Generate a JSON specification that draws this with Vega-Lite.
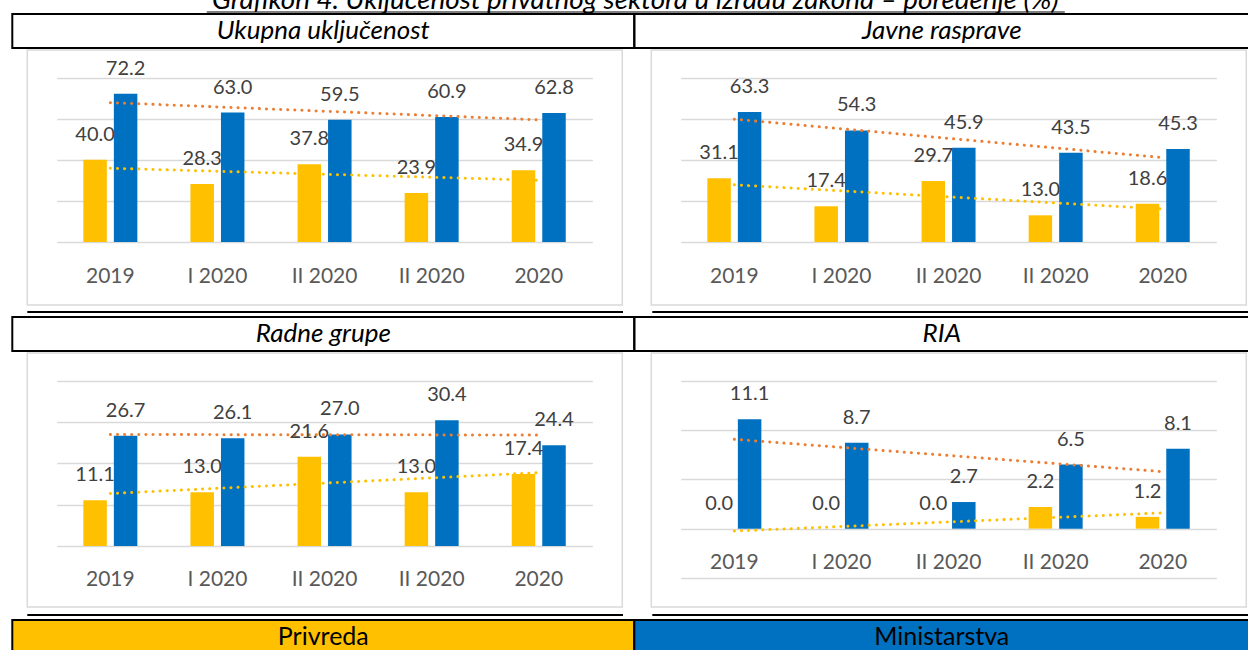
{
  "$schema": "https://vega.github.io/schema/vega-lite/v6.json",
  "padding": {"left": 11.3, "top": 0, "right": 0, "bottom": 0},
  "background": "white",
  "spacing": 0,
  "config": {
    "view": {"stroke": null},
    "font": "Lato",
    "axis": {"labelFont": "Lato"}
  },
  "datasets": {
    "ukupna": [
      {"period": "2019", "idx": 1, "series": "Privreda", "value": 40.0},
      {"period": "I 2020", "idx": 2, "series": "Privreda", "value": 28.3},
      {"period": "II 2020", "idx": 3, "series": "Privreda", "value": 37.8},
      {"period": "II 2020 ", "idx": 4, "series": "Privreda", "value": 23.9},
      {"period": "2020", "idx": 5, "series": "Privreda", "value": 34.9},
      {"period": "2019", "idx": 1, "series": "Ministarstva", "value": 72.2},
      {"period": "I 2020", "idx": 2, "series": "Ministarstva", "value": 63.0},
      {"period": "II 2020", "idx": 3, "series": "Ministarstva", "value": 59.5},
      {"period": "II 2020 ", "idx": 4, "series": "Ministarstva", "value": 60.9},
      {"period": "2020", "idx": 5, "series": "Ministarstva", "value": 62.8}
    ],
    "javne": [
      {"period": "2019", "idx": 1, "series": "Privreda", "value": 31.1},
      {"period": "I 2020", "idx": 2, "series": "Privreda", "value": 17.4},
      {"period": "II 2020", "idx": 3, "series": "Privreda", "value": 29.7},
      {"period": "II 2020 ", "idx": 4, "series": "Privreda", "value": 13.0},
      {"period": "2020", "idx": 5, "series": "Privreda", "value": 18.6},
      {"period": "2019", "idx": 1, "series": "Ministarstva", "value": 63.3},
      {"period": "I 2020", "idx": 2, "series": "Ministarstva", "value": 54.3},
      {"period": "II 2020", "idx": 3, "series": "Ministarstva", "value": 45.9},
      {"period": "II 2020 ", "idx": 4, "series": "Ministarstva", "value": 43.5},
      {"period": "2020", "idx": 5, "series": "Ministarstva", "value": 45.3}
    ],
    "radne": [
      {"period": "2019", "idx": 1, "series": "Privreda", "value": 11.1},
      {"period": "I 2020", "idx": 2, "series": "Privreda", "value": 13.0},
      {"period": "II 2020", "idx": 3, "series": "Privreda", "value": 21.6},
      {"period": "II 2020 ", "idx": 4, "series": "Privreda", "value": 13.0},
      {"period": "2020", "idx": 5, "series": "Privreda", "value": 17.4},
      {"period": "2019", "idx": 1, "series": "Ministarstva", "value": 26.7},
      {"period": "I 2020", "idx": 2, "series": "Ministarstva", "value": 26.1},
      {"period": "II 2020", "idx": 3, "series": "Ministarstva", "value": 27.0},
      {"period": "II 2020 ", "idx": 4, "series": "Ministarstva", "value": 30.4},
      {"period": "2020", "idx": 5, "series": "Ministarstva", "value": 24.4}
    ],
    "ria": [
      {"period": "2019", "idx": 1, "series": "Privreda", "value": 0.0},
      {"period": "I 2020", "idx": 2, "series": "Privreda", "value": 0.0},
      {"period": "II 2020", "idx": 3, "series": "Privreda", "value": 0.0},
      {"period": "II 2020 ", "idx": 4, "series": "Privreda", "value": 2.2},
      {"period": "2020", "idx": 5, "series": "Privreda", "value": 1.2},
      {"period": "2019", "idx": 1, "series": "Ministarstva", "value": 11.1},
      {"period": "I 2020", "idx": 2, "series": "Ministarstva", "value": 8.7},
      {"period": "II 2020", "idx": 3, "series": "Ministarstva", "value": 2.7},
      {"period": "II 2020 ", "idx": 4, "series": "Ministarstva", "value": 6.5},
      {"period": "2020", "idx": 5, "series": "Ministarstva", "value": 8.1}
    ]
  },
  "vconcat": [
    {"hconcat": [
      {"width": 193.7, "height": 1, "data": {"values": []}, "mark": "point"},
      {"width": 858, "height": 13,
       "data": {"values": [{"title": "Grafikon 4. Uključenost privatnog sektora u izradu zakona – poređenje (%)"}]},
       "mark": {"type": "text", "font": "Lato", "fontStyle": "italic", "fontSize": 27.8, "color": "black", "baseline": "alphabetic", "dy": 2, "clip": true},
       "encoding": {
         "text": {"field": "title"},
         "x": {"datum": 0, "type": "quantitative", "scale": {"domain": [-1, 1]},
               "axis": {"orient": "bottom", "domain": true, "domainColor": "black", "domainWidth": 1.2, "ticks": false, "labels": false, "grid": false, "title": null, "offset": -1.5}}
       }}
    ], "spacing": 0, "bounds": "flush"},
    {"hconcat": [
      {"width": 622, "height": 34, "view": {"stroke": "black", "strokeWidth": 2},
       "data": {"values": [{"label": "Ukupna uključenost"}]},
       "mark": {"type": "text", "font": "Lato", "fontStyle": "italic", "fontSize": 26, "color": "black"},
       "encoding": {"text": {"field": "label"}}},
      {"width": 615, "height": 34, "view": {"stroke": "black", "strokeWidth": 2},
       "data": {"values": [{"label": "Javne rasprave"}]},
       "mark": {"type": "text", "font": "Lato", "fontStyle": "italic", "fontSize": 26, "color": "black"},
       "encoding": {"text": {"field": "label"}}}
    ], "spacing": 0, "bounds": "flush"},
    {"hconcat": [
      {"width": 14.45, "height": 1, "data": {"values": []}, "mark": "point"},
      {"width": 595, "height": 255, "view": {"stroke": "#D9D9D9", "strokeWidth": 1.5},
       "data": {"name": "ukupna"},
       "resolve": {"scale": {"x": "independent"}, "axis": {"x": "independent"}},
       "layer": [
         {"mark": {"type": "bar"},
          "encoding": {
            "x": {"field": "period", "type": "nominal", "sort": null, "title": null,
                  "scale": {"range": [29.5, 565], "paddingInner": 0, "paddingOuter": 0},
                  "axis": {"labelAngle": 0, "ticks": false, "domain": false, "grid": false, "labelPadding": 23, "labelFont": "Lato", "labelFontSize": 21, "labelColor": "#595959", "offset": -63}},
            "xOffset": {"field": "series", "type": "nominal", "sort": ["Privreda", "Ministarstva"], "scale": {"paddingInner": 0.23, "paddingOuter": 0.87}},
            "y": {"field": "value", "type": "quantitative", "title": null,
                  "scale": {"domain": [0, 80], "range": [192, 27.7], "nice": false},
                  "axis": {"values": [0, 20, 40, 60, 80], "grid": true, "gridColor": "#D9D9D9", "gridWidth": 1.5, "labels": false, "ticks": false, "domain": false}},
            "color": {"field": "series", "type": "nominal", "scale": {"domain": ["Privreda", "Ministarstva"], "range": ["#FFC000", "#0070C0"]}, "legend": null}
          }},
         {"transform": [{"regression": "value", "on": "idx", "groupby": ["series"]}],
          "mark": {"type": "line", "strokeWidth": 3, "strokeDash": [0.1, 7], "strokeCap": "round"},
          "encoding": {
            "x": {"field": "idx", "type": "quantitative", "scale": {"domain": [0.5, 5.5], "range": [29.5, 565], "nice": false, "zero": false}, "axis": null},
            "y": {"field": "value", "type": "quantitative", "title": null},
            "stroke": {"field": "series", "type": "nominal", "scale": {"domain": ["Privreda", "Ministarstva"], "range": ["#FFC000", "#ED7D31"]}, "legend": null}
          }},
         {"mark": {"type": "text", "font": "Lato", "fontSize": 20, "color": "#404040", "baseline": "alphabetic", "dy": -19},
          "encoding": {
            "x": {"field": "period", "type": "nominal", "sort": null, "scale": {"range": [29.5, 565], "paddingInner": 0, "paddingOuter": 0}, "axis": null},
            "xOffset": {"field": "series", "type": "nominal", "sort": ["Privreda", "Ministarstva"]},
            "y": {"field": "value", "type": "quantitative", "title": null},
            "text": {"field": "value", "type": "quantitative", "format": ".1f"}
          }}
       ]},
      {"width": 28.3, "height": 1, "data": {"values": []}, "mark": "point"},
      {"width": 595, "height": 255, "view": {"stroke": "#D9D9D9", "strokeWidth": 1.5},
       "data": {"name": "javne"},
       "resolve": {"scale": {"x": "independent"}, "axis": {"x": "independent"}},
       "layer": [
         {"mark": {"type": "bar"},
          "encoding": {
            "x": {"field": "period", "type": "nominal", "sort": null, "title": null,
                  "scale": {"range": [29.5, 565], "paddingInner": 0, "paddingOuter": 0},
                  "axis": {"labelAngle": 0, "ticks": false, "domain": false, "grid": false, "labelPadding": 23, "labelFont": "Lato", "labelFontSize": 21, "labelColor": "#595959", "offset": -63}},
            "xOffset": {"field": "series", "type": "nominal", "sort": ["Privreda", "Ministarstva"], "scale": {"paddingInner": 0.23, "paddingOuter": 0.87}},
            "y": {"field": "value", "type": "quantitative", "title": null,
                  "scale": {"domain": [0, 80], "range": [192, 27.7], "nice": false},
                  "axis": {"values": [0, 20, 40, 60, 80], "grid": true, "gridColor": "#D9D9D9", "gridWidth": 1.5, "labels": false, "ticks": false, "domain": false}},
            "color": {"field": "series", "type": "nominal", "scale": {"domain": ["Privreda", "Ministarstva"], "range": ["#FFC000", "#0070C0"]}, "legend": null}
          }},
         {"transform": [{"regression": "value", "on": "idx", "groupby": ["series"]}],
          "mark": {"type": "line", "strokeWidth": 3, "strokeDash": [0.1, 7], "strokeCap": "round"},
          "encoding": {
            "x": {"field": "idx", "type": "quantitative", "scale": {"domain": [0.5, 5.5], "range": [29.5, 565], "nice": false, "zero": false}, "axis": null},
            "y": {"field": "value", "type": "quantitative", "title": null},
            "stroke": {"field": "series", "type": "nominal", "scale": {"domain": ["Privreda", "Ministarstva"], "range": ["#FFC000", "#ED7D31"]}, "legend": null}
          }},
         {"mark": {"type": "text", "font": "Lato", "fontSize": 20, "color": "#404040", "baseline": "alphabetic", "dy": -19},
          "encoding": {
            "x": {"field": "period", "type": "nominal", "sort": null, "scale": {"range": [29.5, 565], "paddingInner": 0, "paddingOuter": 0}, "axis": null},
            "xOffset": {"field": "series", "type": "nominal", "sort": ["Privreda", "Ministarstva"]},
            "y": {"field": "value", "type": "quantitative", "title": null},
            "text": {"field": "value", "type": "quantitative", "format": ".1f"}
          }}
       ]}
    ], "spacing": 0, "bounds": "flush"},
    {"width": 1, "height": 5, "data": {"values": []}, "mark": "point"},
    {"hconcat": [
      {"width": 14.7, "height": 1, "data": {"values": []}, "mark": "point"},
      {"width": 595.7, "height": 2, "view": {"fill": "black", "stroke": null}, "data": {"values": []}, "mark": "point"},
      {"width": 28.3, "height": 1, "data": {"values": []}, "mark": "point"},
      {"width": 598, "height": 2, "view": {"fill": "black", "stroke": null}, "data": {"values": []}, "mark": "point"}
    ], "spacing": 0, "bounds": "flush"},
    {"width": 1, "height": 3, "data": {"values": []}, "mark": "point"},
    {"hconcat": [
      {"width": 622, "height": 34, "view": {"stroke": "black", "strokeWidth": 2},
       "data": {"values": [{"label": "Radne grupe"}]},
       "mark": {"type": "text", "font": "Lato", "fontStyle": "italic", "fontSize": 26, "color": "black"},
       "encoding": {"text": {"field": "label"}}},
      {"width": 615, "height": 34, "view": {"stroke": "black", "strokeWidth": 2},
       "data": {"values": [{"label": "RIA"}]},
       "mark": {"type": "text", "font": "Lato", "fontStyle": "italic", "fontSize": 26, "color": "black"},
       "encoding": {"text": {"field": "label"}}}
    ], "spacing": 0, "bounds": "flush"},
    {"hconcat": [
      {"width": 14.45, "height": 1, "data": {"values": []}, "mark": "point"},
      {"width": 595, "height": 254, "view": {"stroke": "#D9D9D9", "strokeWidth": 1.5},
       "data": {"name": "radne"},
       "resolve": {"scale": {"x": "independent"}, "axis": {"x": "independent"}},
       "layer": [
         {"mark": {"type": "bar"},
          "encoding": {
            "x": {"field": "period", "type": "nominal", "sort": null, "title": null,
                  "scale": {"range": [29.5, 565], "paddingInner": 0, "paddingOuter": 0},
                  "axis": {"labelAngle": 0, "ticks": false, "domain": false, "grid": false, "labelPadding": 23, "labelFont": "Lato", "labelFontSize": 21, "labelColor": "#595959", "offset": -61}},
            "xOffset": {"field": "series", "type": "nominal", "sort": ["Privreda", "Ministarstva"], "scale": {"paddingInner": 0.23, "paddingOuter": 0.87}},
            "y": {"field": "value", "type": "quantitative", "title": null,
                  "scale": {"domain": [0, 40], "range": [193, 27.7], "nice": false},
                  "axis": {"values": [0, 10, 20, 30, 40], "grid": true, "gridColor": "#D9D9D9", "gridWidth": 1.5, "labels": false, "ticks": false, "domain": false}},
            "color": {"field": "series", "type": "nominal", "scale": {"domain": ["Privreda", "Ministarstva"], "range": ["#FFC000", "#0070C0"]}, "legend": null}
          }},
         {"transform": [{"regression": "value", "on": "idx", "groupby": ["series"]}],
          "mark": {"type": "line", "strokeWidth": 3, "strokeDash": [0.1, 7], "strokeCap": "round"},
          "encoding": {
            "x": {"field": "idx", "type": "quantitative", "scale": {"domain": [0.5, 5.5], "range": [29.5, 565], "nice": false, "zero": false}, "axis": null},
            "y": {"field": "value", "type": "quantitative", "title": null},
            "stroke": {"field": "series", "type": "nominal", "scale": {"domain": ["Privreda", "Ministarstva"], "range": ["#FFC000", "#ED7D31"]}, "legend": null}
          }},
         {"mark": {"type": "text", "font": "Lato", "fontSize": 20, "color": "#404040", "baseline": "alphabetic", "dy": -19},
          "encoding": {
            "x": {"field": "period", "type": "nominal", "sort": null, "scale": {"range": [29.5, 565], "paddingInner": 0, "paddingOuter": 0}, "axis": null},
            "xOffset": {"field": "series", "type": "nominal", "sort": ["Privreda", "Ministarstva"]},
            "y": {"field": "value", "type": "quantitative", "title": null},
            "text": {"field": "value", "type": "quantitative", "format": ".1f"}
          }}
       ]},
      {"width": 28.3, "height": 1, "data": {"values": []}, "mark": "point"},
      {"width": 595, "height": 254, "view": {"stroke": "#D9D9D9", "strokeWidth": 1.5},
       "data": {"name": "ria"},
       "resolve": {"scale": {"x": "independent"}, "axis": {"x": "independent"}},
       "layer": [
         {"mark": {"type": "bar"},
          "encoding": {
            "x": {"field": "period", "type": "nominal", "sort": null, "title": null,
                  "scale": {"range": [29.5, 565], "paddingInner": 0, "paddingOuter": 0},
                  "axis": {"labelAngle": 0, "ticks": false, "domain": false, "grid": false, "labelPadding": 23, "labelFont": "Lato", "labelFontSize": 21, "labelColor": "#595959", "offset": -78}},
            "xOffset": {"field": "series", "type": "nominal", "sort": ["Privreda", "Ministarstva"], "scale": {"paddingInner": 0.23, "paddingOuter": 0.87}},
            "y": {"field": "value", "type": "quantitative", "title": null,
                  "scale": {"domain": [-5, 15], "range": [225, 27.7], "nice": false},
                  "axis": {"values": [-5, 0, 5, 10, 15], "grid": true, "gridColor": "#D9D9D9", "gridWidth": 1.5, "labels": false, "ticks": false, "domain": false}},
            "color": {"field": "series", "type": "nominal", "scale": {"domain": ["Privreda", "Ministarstva"], "range": ["#FFC000", "#0070C0"]}, "legend": null}
          }},
         {"transform": [{"regression": "value", "on": "idx", "groupby": ["series"]}],
          "mark": {"type": "line", "strokeWidth": 3, "strokeDash": [0.1, 7], "strokeCap": "round"},
          "encoding": {
            "x": {"field": "idx", "type": "quantitative", "scale": {"domain": [0.5, 5.5], "range": [29.5, 565], "nice": false, "zero": false}, "axis": null},
            "y": {"field": "value", "type": "quantitative", "title": null},
            "stroke": {"field": "series", "type": "nominal", "scale": {"domain": ["Privreda", "Ministarstva"], "range": ["#FFC000", "#ED7D31"]}, "legend": null}
          }},
         {"mark": {"type": "text", "font": "Lato", "fontSize": 20, "color": "#404040", "baseline": "alphabetic", "dy": -19},
          "encoding": {
            "x": {"field": "period", "type": "nominal", "sort": null, "scale": {"range": [29.5, 565], "paddingInner": 0, "paddingOuter": 0}, "axis": null},
            "xOffset": {"field": "series", "type": "nominal", "sort": ["Privreda", "Ministarstva"]},
            "y": {"field": "value", "type": "quantitative", "title": null},
            "text": {"field": "value", "type": "quantitative", "format": ".1f"}
          }}
       ]}
    ], "spacing": 0, "bounds": "flush"},
    {"width": 1, "height": 6, "data": {"values": []}, "mark": "point"},
    {"hconcat": [
      {"width": 14.7, "height": 1, "data": {"values": []}, "mark": "point"},
      {"width": 595.7, "height": 2, "view": {"fill": "black", "stroke": null}, "data": {"values": []}, "mark": "point"},
      {"width": 28.3, "height": 1, "data": {"values": []}, "mark": "point"},
      {"width": 598, "height": 2, "view": {"fill": "black", "stroke": null}, "data": {"values": []}, "mark": "point"}
    ], "spacing": 0, "bounds": "flush"},
    {"width": 1, "height": 3, "data": {"values": []}, "mark": "point"},
    {"hconcat": [
      {"width": 622, "height": 31, "view": {"fill": "#FFC000", "stroke": "black", "strokeWidth": 2},
       "data": {"values": [{"series": "Privreda"}]},
       "mark": {"type": "text", "font": "Lato", "fontSize": 25, "color": "black", "dy": 1.5},
       "encoding": {"text": {"field": "series"}}},
      {"width": 615, "height": 31, "view": {"fill": "#0070C0", "stroke": "black", "strokeWidth": 2},
       "data": {"values": [{"series": "Ministarstva"}]},
       "mark": {"type": "text", "font": "Lato", "fontSize": 25, "color": "black", "dy": 1.5},
       "encoding": {"text": {"field": "series"}}}
    ], "spacing": 0, "bounds": "flush"}
  ]
}
